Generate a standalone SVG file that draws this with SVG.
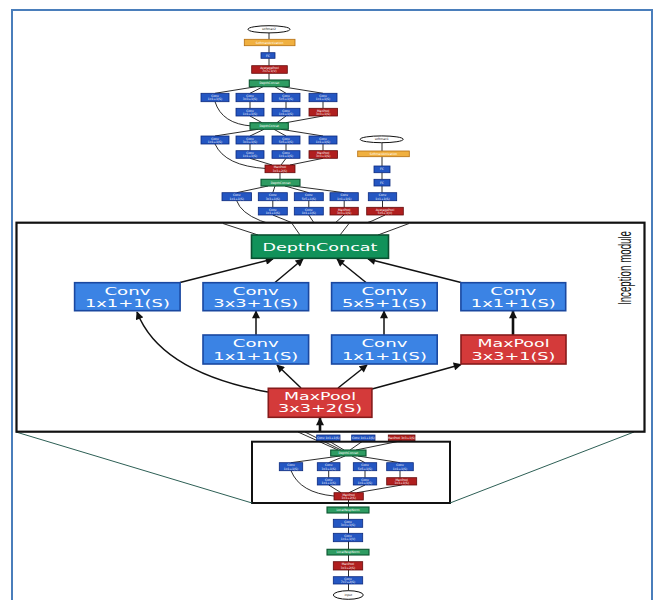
<svg xmlns="http://www.w3.org/2000/svg" width="654" height="600" viewBox="0 0 654 600">
<defs>
<style>
.tb{fill:#2456c2;stroke:#0c2a7e;stroke-width:0.8}
.tr{fill:#b01f1f;stroke:#640b0b;stroke-width:0.8}
.tg{fill:#2e9c62;stroke:#0b5530;stroke-width:1.1}
.to{fill:#f0b040;stroke:#b46e10;stroke-width:0.8}
.te{fill:#fff;stroke:#111;stroke-width:1}
.tt{font-family:"DejaVu Sans",sans-serif;font-size:3px;fill:#fff;text-anchor:middle}
.tk{font-family:"DejaVu Sans",sans-serif;font-size:3px;fill:#111;text-anchor:middle}
.tl{fill:none;stroke:#151515;stroke-width:0.9}
.bb{fill:#3b83e4;stroke:#1a48a0;stroke-width:1.6}
.br{fill:#d43a3a;stroke:#861b1b;stroke-width:1.6}
.bg{fill:#11925a;stroke:#0a4f30;stroke-width:1.6}
.bt{font-family:"DejaVu Sans",sans-serif;font-size:10.5px;fill:#fff;text-anchor:middle}
.cn{fill:none;stroke:#111;stroke-width:1.5}
.ck{fill:none;stroke:#111;stroke-width:2.6}
</style>
<marker id="ah" viewBox="0 0 10 10" refX="9" refY="5" markerWidth="9" markerHeight="8" markerUnits="userSpaceOnUse" orient="auto"><path d="M0,0 L10,5 L0,10 z" fill="#111"/></marker>
</defs>
<rect width="654" height="600" fill="#fff"/>
<path d="M12,602 V10 H652 V602" fill="none" stroke="#4a7ebb" stroke-width="2"/>

<g id="thumb-connectors">
<path class="tl" d="M269,32.7 V39.3 M269,45.7 V52.7 M269,58.3 V65.7 M269,73.3 V80"/>
<path class="tl" d="M256,86.7 L215,93.3 M263,86.7 L250,93.3 M275,86.7 L286,93.3 M282,86.7 L323,93.3"/>
<path class="tl" d="M250,101.7 V108.3 M286,101.7 V108.3 M323,101.7 V108.3"/>
<path class="tl" d="M215,101.7 Q222,124 252,126"/>
<path class="tl" d="M250,116 L262,122.7 M286,116 L277,122.7 M323,116 L286,122.7"/>
<path class="tl" d="M258,129.3 L215,136 M264,129.3 L250,136 M274,129.3 L286,136 M281,129.3 L323,136"/>
<path class="tl" d="M250,144 V150.7 M286,144 V150.7 M323,144 V150.7"/>
<path class="tl" d="M215,144 Q225,166 266,168.5"/>
<path class="tl" d="M250,158.3 L272,165 M286,158.3 L281,165 M323,158.3 L290,165"/>
<path class="tl" d="M280,172.7 V179.3"/>
<path class="tl" d="M268,186 L236.7,192.7 M275,186 L272.8,192.7 M285,186 L308.8,192.7 M293,186 L344,192.7"/>
<path class="tl" d="M272.8,200.7 V207.3 M308.8,200.7 V207.3 M344.2,200.7 V207.3"/>
<path class="tl" d="M382,142.7 V151 M382,156.7 V166 M382,172.7 V179.3 M382,186 V192.7 M382.5,200.7 V207.3"/>
<path class="tl" d="M236.7,200.7 Q245,225 315,232 M272.8,215 L315,232 M308.8,215 L320,232 M344,215 L325,232 M385,215 Q360,228 328,232"/>
<path class="tl" d="M338,450 L298,432 M341,450 L305,432"/>
<path class="tl" d="M344,450 L328.3,440.7 M350,450 L363.3,440.7 M356,450 L401.6,440.7"/>
<path class="tl" d="M340,456 L291,462.7 M345,456 L328.7,462.7 M352,456 L365,462.7 M358,456 L400,462.7"/>
<path class="tl" d="M328.7,470.7 V477.7 M365,470.7 V477.7 M400,470.7 V477.7"/>
<path class="tl" d="M291,470.7 Q300,493 334,496"/>
<path class="tl" d="M328.7,485 L341,492.7 M365,485 L349,492.7 M401.7,485 L357,492.7"/>
<path class="tl" d="M348.5,500 V590.7" stroke-width="1.2"/>
</g>

<g id="n-softmax2"><ellipse class="te" cx="269" cy="29.3" rx="21" ry="3.6"/><text class="tk" x="269" y="30.4">softmax2</text></g>
<g id="n-softmaxact2"><rect class="to" x="244.3" y="39.3" width="50.7" height="6.4"/><text class="tt" x="269.6" y="43.6">SoftmaxActivation</text></g>
<g id="n-fc2"><rect class="tb" x="261" y="52.7" width="14" height="5.6"/><text class="tt" x="268" y="56.6">FC</text></g>
<g id="n-avgpool2"><rect class="tr" x="251.7" y="65.7" width="35.6" height="7.6"/><text class="tt" x="269.5" y="69">AveragePool</text><text class="tt" x="269.5" y="72.3">7x7+1(V)</text></g>
<g id="n-dc-a"><rect class="tg" x="249.3" y="80" width="40" height="6.7"/><text class="tt" x="269.3" y="84.4">DepthConcat</text></g>

<g id="n-a1"><rect class="tb" x="201" y="93.3" width="28" height="8.4"/><text class="tt" x="215" y="96.9">Conv</text><text class="tt" x="215" y="100.4">1x1+1(S)</text></g>
<g id="n-a2"><rect class="tb" x="236" y="93.3" width="28" height="8.4"/><text class="tt" x="250" y="96.9">Conv</text><text class="tt" x="250" y="100.4">3x3+1(S)</text></g>
<g id="n-a3"><rect class="tb" x="272" y="93.3" width="28" height="8.4"/><text class="tt" x="286" y="96.9">Conv</text><text class="tt" x="286" y="100.4">5x5+1(S)</text></g>
<g id="n-a4"><rect class="tb" x="309" y="93.3" width="28" height="8.4"/><text class="tt" x="323" y="96.9">Conv</text><text class="tt" x="323" y="100.4">1x1+1(S)</text></g>
<g id="n-b2"><rect class="tb" x="236" y="108.3" width="28" height="7.7"/><text class="tt" x="250" y="111.7">Conv</text><text class="tt" x="250" y="115">1x1+1(S)</text></g>
<g id="n-b3"><rect class="tb" x="272" y="108.3" width="28" height="7.7"/><text class="tt" x="286" y="111.7">Conv</text><text class="tt" x="286" y="115">1x1+1(S)</text></g>
<g id="n-b4"><rect class="tr" x="309" y="108.3" width="28.5" height="7.7"/><text class="tt" x="323.2" y="111.7">MaxPool</text><text class="tt" x="323.2" y="115">3x3+1(S)</text></g>
<g id="n-dc-b"><rect class="tg" x="250" y="122.7" width="38.3" height="6.6"/><text class="tt" x="269.2" y="127">DepthConcat</text></g>

<g id="n-c1"><rect class="tb" x="201" y="136" width="28" height="8"/><text class="tt" x="215" y="139.5">Conv</text><text class="tt" x="215" y="142.9">1x1+1(S)</text></g>
<g id="n-c2"><rect class="tb" x="236" y="136" width="28" height="8"/><text class="tt" x="250" y="139.5">Conv</text><text class="tt" x="250" y="142.9">3x3+1(S)</text></g>
<g id="n-c3"><rect class="tb" x="272" y="136" width="28" height="8"/><text class="tt" x="286" y="139.5">Conv</text><text class="tt" x="286" y="142.9">5x5+1(S)</text></g>
<g id="n-c4"><rect class="tb" x="309" y="136" width="28" height="8"/><text class="tt" x="323" y="139.5">Conv</text><text class="tt" x="323" y="142.9">1x1+1(S)</text></g>
<g id="n-d2"><rect class="tb" x="236" y="150.7" width="28" height="7.6"/><text class="tt" x="250" y="154">Conv</text><text class="tt" x="250" y="157.3">1x1+1(S)</text></g>
<g id="n-d3"><rect class="tb" x="272" y="150.7" width="28" height="7.6"/><text class="tt" x="286" y="154">Conv</text><text class="tt" x="286" y="157.3">1x1+1(S)</text></g>
<g id="n-d4"><rect class="tr" x="309" y="150.7" width="28.5" height="7.6"/><text class="tt" x="323.2" y="154">MaxPool</text><text class="tt" x="323.2" y="157.3">3x3+1(S)</text></g>
<g id="n-mp-t"><rect class="tr" x="265" y="165" width="30" height="7.7"/><text class="tt" x="280" y="168.4">MaxPool</text><text class="tt" x="280" y="171.7">3x3+2(S)</text></g>
<g id="n-dc-c"><rect class="tg" x="261" y="179.3" width="39" height="6.7"/><text class="tt" x="280.5" y="183.7">DepthConcat</text></g>

<g id="n-e1"><rect class="tb" x="222" y="192.7" width="29.5" height="8"/><text class="tt" x="236.7" y="196.2">Conv</text><text class="tt" x="236.7" y="199.6">1x1+1(S)</text></g>
<g id="n-e2"><rect class="tb" x="258.3" y="192.7" width="29" height="8"/><text class="tt" x="272.8" y="196.2">Conv</text><text class="tt" x="272.8" y="199.6">3x3+1(S)</text></g>
<g id="n-e3"><rect class="tb" x="294.3" y="192.7" width="29" height="8"/><text class="tt" x="308.8" y="196.2">Conv</text><text class="tt" x="308.8" y="199.6">5x5+1(S)</text></g>
<g id="n-e4"><rect class="tb" x="330" y="192.7" width="28.3" height="8"/><text class="tt" x="344.2" y="196.2">Conv</text><text class="tt" x="344.2" y="199.6">1x1+1(S)</text></g>
<g id="n-f2"><rect class="tb" x="258.3" y="207.3" width="29" height="7.7"/><text class="tt" x="272.8" y="210.7">Conv</text><text class="tt" x="272.8" y="214">1x1+1(S)</text></g>
<g id="n-f3"><rect class="tb" x="294.3" y="207.3" width="29" height="7.7"/><text class="tt" x="308.8" y="210.7">Conv</text><text class="tt" x="308.8" y="214">1x1+1(S)</text></g>
<g id="n-f4"><rect class="tr" x="330" y="207.3" width="28.3" height="7.7"/><text class="tt" x="344.2" y="210.7">MaxPool</text><text class="tt" x="344.2" y="214">3x3+1(S)</text></g>

<g id="n-softmax1"><ellipse class="te" cx="381.7" cy="139.3" rx="21.5" ry="3.4"/><text class="tk" x="381.7" y="140.4">softmax1</text></g>
<g id="n-softmaxact1"><rect class="to" x="357.7" y="151" width="51.6" height="5.7"/><text class="tt" x="383.5" y="154.9">SoftmaxActivation</text></g>
<g id="n-fc1b"><rect class="tb" x="374" y="166" width="16" height="6.7"/><text class="tt" x="382" y="170.4">FC</text></g>
<g id="n-fc1a"><rect class="tb" x="374" y="179.3" width="16" height="6.7"/><text class="tt" x="382" y="183.7">FC</text></g>
<g id="n-aux-conv"><rect class="tb" x="368.3" y="192.7" width="28.4" height="8"/><text class="tt" x="382.5" y="196.2">Conv</text><text class="tt" x="382.5" y="199.6">1x1+1(S)</text></g>
<g id="n-aux-pool"><rect class="tr" x="366.7" y="207.3" width="36.6" height="7.7"/><text class="tt" x="385" y="210.7">AveragePool</text><text class="tt" x="385" y="214">5x5+3(V)</text></g>

<g id="n-g0a"><rect class="tb" x="316.7" y="435" width="23.3" height="5.7"/><text class="tt" x="328.3" y="438.9">Conv 1x1+1(S)</text></g>
<g id="n-g0b"><rect class="tb" x="351.7" y="435" width="23.3" height="5.7"/><text class="tt" x="363.3" y="438.9">Conv 1x1+1(S)</text></g>
<g id="n-g0c"><rect class="tr" x="388.3" y="435" width="26.7" height="5.7"/><text class="tt" x="401.6" y="438.9">MaxPool 3x3+1(S)</text></g>

<g id="n-dc-s"><rect class="tg" x="330.7" y="450" width="35.3" height="6"/><text class="tt" x="348.3" y="454.1">DepthConcat</text></g>
<g id="n-g1"><rect class="tb" x="279.3" y="462.7" width="23.4" height="8"/><text class="tt" x="291" y="466.2">Conv</text><text class="tt" x="291" y="469.6">1x1+1(S)</text></g>
<g id="n-g2"><rect class="tb" x="317.3" y="462.7" width="22.7" height="8"/><text class="tt" x="328.7" y="466.2">Conv</text><text class="tt" x="328.7" y="469.6">3x3+1(S)</text></g>
<g id="n-g3"><rect class="tb" x="353.3" y="462.7" width="23.4" height="8"/><text class="tt" x="365" y="466.2">Conv</text><text class="tt" x="365" y="469.6">5x5+1(S)</text></g>
<g id="n-g4"><rect class="tb" x="386.7" y="462.7" width="26.6" height="8"/><text class="tt" x="400" y="466.2">Conv</text><text class="tt" x="400" y="469.6">1x1+1(S)</text></g>
<g id="n-h2"><rect class="tb" x="317.3" y="477.7" width="22.7" height="7.3"/><text class="tt" x="328.7" y="480.9">Conv</text><text class="tt" x="328.7" y="484.2">1x1+1(S)</text></g>
<g id="n-h3"><rect class="tb" x="353.3" y="477.7" width="23.4" height="7.3"/><text class="tt" x="365" y="480.9">Conv</text><text class="tt" x="365" y="484.2">1x1+1(S)</text></g>
<g id="n-h4"><rect class="tr" x="386.7" y="477.7" width="30" height="7.3"/><text class="tt" x="401.7" y="480.9">MaxPool</text><text class="tt" x="401.7" y="484.2">3x3+1(S)</text></g>
<g id="n-mp-s"><rect class="tr" x="334" y="492.7" width="29.3" height="7.3"/><text class="tt" x="348.7" y="495.9">MaxPool</text><text class="tt" x="348.7" y="499.2">3x3+2(S)</text></g>

<g id="n-lrn2"><rect class="tg" x="327" y="507" width="42" height="6"/><text class="tt" x="348" y="511.1">LocalRespNorm</text></g>
<g id="n-conv3"><rect class="tb" x="333.3" y="519.3" width="29.4" height="8"/><text class="tt" x="348" y="522.8">Conv</text><text class="tt" x="348" y="526.2">3x3+1(S)</text></g>
<g id="n-conv2"><rect class="tb" x="333.3" y="533.3" width="29.4" height="8.4"/><text class="tt" x="348" y="536.9">Conv</text><text class="tt" x="348" y="540.4">1x1+1(V)</text></g>
<g id="n-lrn1"><rect class="tg" x="327" y="549.3" width="42" height="5.7"/><text class="tt" x="348" y="553.2">LocalRespNorm</text></g>
<g id="n-mp1"><rect class="tr" x="333.3" y="561.7" width="29.4" height="8.3"/><text class="tt" x="348" y="565.2">MaxPool</text><text class="tt" x="348" y="568.7">3x3+2(S)</text></g>
<g id="n-conv1"><rect class="tb" x="333.3" y="576.7" width="29.4" height="7.3"/><text class="tt" x="348" y="579.9">Conv</text><text class="tt" x="348" y="583.2">7x7+2(S)</text></g>
<g id="n-input"><ellipse class="te" cx="348.3" cy="595" rx="15" ry="4.3"/><text class="tk" x="348.3" y="596.1">input</text></g>

<rect x="252" y="441.7" width="198" height="61.3" fill="none" stroke="#111" stroke-width="2"/>
<path d="M16,432 L252,503 M450,503 L634,432" fill="none" stroke="#2d5f55" stroke-width="1"/>

<g id="inception-frame">
<rect x="16.5" y="222.7" width="628" height="209" fill="#fff" stroke="#111" stroke-width="2.2"/>
<text transform="translate(630.5,268) rotate(-90)" x="0" y="0" font-family="Liberation Sans, Arial, sans-serif" font-size="19" fill="#111" text-anchor="middle" textLength="74" lengthAdjust="spacingAndGlyphs">Inception module</text>
</g>

<g id="connectors">
<path class="tl" d="M258,235 L223,223.5 M300,235 L292,223.5 M340,235 L349,223.5 M378,235 L409,223.5" stroke-width="1.1"/>
<path class="cn" marker-end="url(#ah)" d="M180,282.5 L273,259"/>
<path class="cn" marker-end="url(#ah)" d="M275,282.5 L303,259"/>
<path class="cn" marker-end="url(#ah)" d="M366,282.5 L337,259"/>
<path class="cn" marker-end="url(#ah)" d="M461,282.5 L368,259"/>
<path class="cn" marker-end="url(#ah)" d="M256,335 L256,311"/>
<path class="cn" marker-end="url(#ah)" d="M384,335 L384,311"/>
<path class="ck" marker-end="url(#ah)" d="M513,335 L513,311"/>
<path class="cn" marker-end="url(#ah)" d="M268,392 Q160,372 137,312"/>
<path class="cn" marker-end="url(#ah)" d="M301,388 L277,365"/>
<path class="cn" marker-end="url(#ah)" d="M338,388 L367,365"/>
<path class="cn" marker-end="url(#ah)" d="M372,389 Q420,376 461,364.5"/>
<path class="ck" marker-end="url(#ah)" d="M320,432 L320,418"/>
</g>

<g id="depthconcat"><rect class="bg" x="251.5" y="235" width="137" height="23.3"/><text class="bt" x="320" y="250.5" textLength="115" lengthAdjust="spacingAndGlyphs">DepthConcat</text></g>
<g id="conv-1x1-a"><rect class="bb" x="74.6" y="282.7" width="105.5" height="28"/><text class="bt" x="127.4" y="294.5" textLength="46" lengthAdjust="spacingAndGlyphs">Conv</text><text class="bt" x="127.4" y="306.5" textLength="85" lengthAdjust="spacingAndGlyphs">1x1+1(S)</text></g>
<g id="conv-3x3"><rect class="bb" x="203" y="282.7" width="105.6" height="28"/><text class="bt" x="255.8" y="294.5" textLength="46" lengthAdjust="spacingAndGlyphs">Conv</text><text class="bt" x="255.8" y="306.5" textLength="85" lengthAdjust="spacingAndGlyphs">3x3+1(S)</text></g>
<g id="conv-5x5"><rect class="bb" x="331.6" y="282.7" width="105.6" height="28"/><text class="bt" x="384.4" y="294.5" textLength="46" lengthAdjust="spacingAndGlyphs">Conv</text><text class="bt" x="384.4" y="306.5" textLength="85" lengthAdjust="spacingAndGlyphs">5x5+1(S)</text></g>
<g id="conv-1x1-d"><rect class="bb" x="460.9" y="282.7" width="104.8" height="28"/><text class="bt" x="513.3" y="294.5" textLength="46" lengthAdjust="spacingAndGlyphs">Conv</text><text class="bt" x="513.3" y="306.5" textLength="85" lengthAdjust="spacingAndGlyphs">1x1+1(S)</text></g>
<g id="conv-1x1-b"><rect class="bb" x="203" y="335" width="105.6" height="29"/><text class="bt" x="255.8" y="347.3" textLength="46" lengthAdjust="spacingAndGlyphs">Conv</text><text class="bt" x="255.8" y="359.8" textLength="85" lengthAdjust="spacingAndGlyphs">1x1+1(S)</text></g>
<g id="conv-1x1-c"><rect class="bb" x="331.6" y="335" width="105.6" height="29"/><text class="bt" x="384.4" y="347.3" textLength="46" lengthAdjust="spacingAndGlyphs">Conv</text><text class="bt" x="384.4" y="359.8" textLength="85" lengthAdjust="spacingAndGlyphs">1x1+1(S)</text></g>
<g id="maxpool-3x3-1"><rect class="br" x="461" y="335" width="105" height="29"/><text class="bt" x="513.5" y="347.3" textLength="72" lengthAdjust="spacingAndGlyphs">MaxPool</text><text class="bt" x="513.5" y="359.8" textLength="84" lengthAdjust="spacingAndGlyphs">3x3+1(S)</text></g>
<g id="maxpool-3x3-2"><rect class="br" x="268.3" y="388.3" width="103.6" height="29"/><text class="bt" x="320.1" y="400" textLength="72" lengthAdjust="spacingAndGlyphs">MaxPool</text><text class="bt" x="320.1" y="411.7" textLength="84" lengthAdjust="spacingAndGlyphs">3x3+2(S)</text></g>
</svg>
